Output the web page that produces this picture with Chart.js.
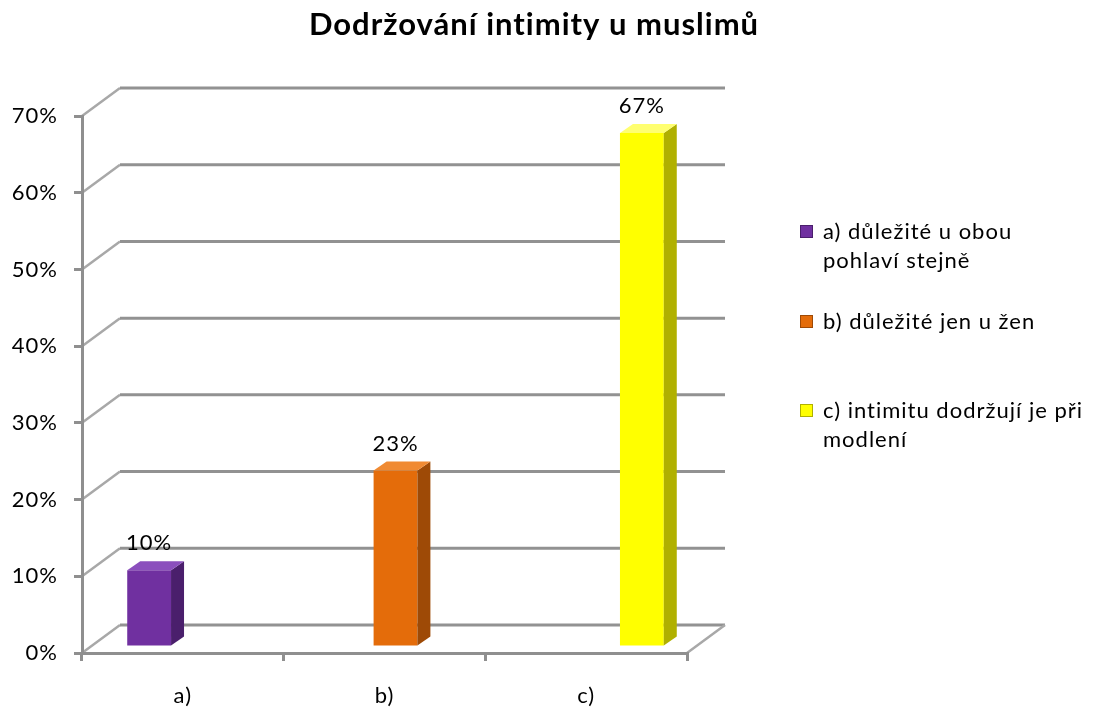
<!DOCTYPE html>
<html>
<head>
<meta charset="utf-8">
<script src="https://cdn.jsdelivr.net/npm/chart.js@4.4.0/dist/chart.umd.min.js"></script>
<style>
html, body { margin: 0; padding: 0; background: #fff; }
canvas { display: block; }
</style>
</head>
<body>
<canvas id="chart" width="1096" height="711"></canvas>
<script>
var chartTitle = 'Dodržování intimity u muslimů';
var categories = ['a)', 'b)', 'c)'];
var seriesNames = [
    ['a) důležité u obou', 'pohlaví stejně'],
    ['b) důležité jen u žen'],
    ['c) intimitu dodržují je při', 'modlení']
];
var seriesA = [10, null, null];
var seriesB = [null, 23, null];
var seriesC = [null, null, 67];
var yMax = 70;
var yStep = 10;

var frontColors = ['#7030a0', '#e46c0a', '#ffff00'];
var sideColors = ['#4a1f6c', '#9e4a06', '#b0b000'];
var topColors = ['#8b4fbd', '#f08a32', '#ffff70'];

// 3d offsets (pixels)
var WALL_DX = 38, WALL_DY = -28;
var BAR_DX = 11, BAR_DY = -6;
var DEPTH_DX = 13, DEPTH_DY = -9;

// the reference text is a bit wider than Lato
function spacing(chart) {
    chart.ctx.letterSpacing = '1px';
}

var threeD = {
    id: 'threeD',
    beforeUpdate: spacing,
    beforeLayout: spacing,
    beforeDraw: function (chart) {
        spacing(chart);
        var ctx = chart.ctx, area = chart.chartArea, y = chart.scales.y;
        ctx.save();
        y.ticks.forEach(function (t) {
            var py = y.getPixelForValue(t.value);
            ctx.strokeStyle = '#a8a8a8';
            ctx.lineWidth = 2.5;
            ctx.beginPath();
            ctx.moveTo(area.left, py);
            ctx.lineTo(area.left + WALL_DX, py + WALL_DY);
            ctx.stroke();
            ctx.strokeStyle = '#929292';
            ctx.lineWidth = 3;
            ctx.beginPath();
            ctx.moveTo(area.left + WALL_DX, py + WALL_DY);
            ctx.lineTo(area.right + WALL_DX, py + WALL_DY);
            ctx.stroke();
        });
        // right edge of the floor
        ctx.strokeStyle = '#a8a8a8';
        ctx.lineWidth = 2.5;
        ctx.beginPath();
        ctx.moveTo(area.right, area.bottom);
        ctx.lineTo(area.right + WALL_DX, area.bottom + WALL_DY);
        ctx.stroke();
        ctx.restore();
    },
    beforeDatasetsDraw: function (chart) {
        chart.ctx.save();
        chart.ctx.translate(BAR_DX, BAR_DY);
    },
    afterDatasetsDraw: function (chart) {
        var ctx = chart.ctx;
        ctx.restore();
        ctx.save();
        chart.data.datasets.forEach(function (ds, i) {
            var meta = chart.getDatasetMeta(i);
            meta.data.forEach(function (el, j) {
                if (ds.data[j] == null) return;
                var p = el.getProps(['x', 'y', 'base', 'width'], true);
                var x1 = p.x - p.width / 2 + BAR_DX;
                var x2 = p.x + p.width / 2 + BAR_DX;
                var yt = p.y + BAR_DY;
                var yb = p.base + BAR_DY;
                // side
                ctx.fillStyle = sideColors[i];
                ctx.beginPath();
                ctx.moveTo(x2, yt);
                ctx.lineTo(x2 + DEPTH_DX, yt + DEPTH_DY);
                ctx.lineTo(x2 + DEPTH_DX, yb + DEPTH_DY);
                ctx.lineTo(x2, yb);
                ctx.closePath();
                ctx.fill();
                // top
                ctx.fillStyle = topColors[i];
                ctx.beginPath();
                ctx.moveTo(x1, yt);
                ctx.lineTo(x2, yt);
                ctx.lineTo(x2 + DEPTH_DX, yt + DEPTH_DY);
                ctx.lineTo(x1 + DEPTH_DX, yt + DEPTH_DY);
                ctx.closePath();
                ctx.fill();
                // value label
                ctx.fillStyle = '#000';
                ctx.font = '22px Lato';
                ctx.textAlign = 'center';
                ctx.textBaseline = 'alphabetic';
                ctx.fillText(ds.data[j] + '%', p.x + BAR_DX, yt + DEPTH_DY - 11);
            });
        });
        ctx.restore();
    },
    afterDraw: function (chart) {
        var ctx = chart.ctx;
        ctx.save();
        ctx.fillStyle = '#000';
        ctx.font = 'bold 31px Lato';
        ctx.textAlign = 'center';
        ctx.textBaseline = 'alphabetic';
        ctx.fillText(chartTitle, 534, 35);

        // legend
        var lineCenters = [233, 323, 412];
        ctx.font = '22px Lato';
        ctx.textAlign = 'left';
        seriesNames.forEach(function (lines, i) {
            var cy = lineCenters[i];
            ctx.fillStyle = frontColors[i];
            ctx.fillRect(800, cy - 8, 13, 13);
            ctx.strokeStyle = sideColors[i];
            ctx.lineWidth = 1;
            ctx.strokeRect(800.5, cy - 7.5, 12, 12);
            ctx.fillStyle = '#000';
            lines.forEach(function (t, k) {
                ctx.fillText(t, 823, cy + 6 + k * 29);
            });
        });
        ctx.restore();
    }
};

function makeDataset(i, values) {
    return {
        label: seriesNames[i].join(' '),
        data: values,
        backgroundColor: frontColors[i],
        borderWidth: 0,
        categoryPercentage: 0.665,
        barPercentage: 0.98
    };
}

var ctx = document.getElementById('chart').getContext('2d');
var chart = new Chart(ctx, {
    type: 'bar',
    data: {
        labels: categories,
        datasets: [
            makeDataset(0, seriesA),
            makeDataset(1, seriesB),
            makeDataset(2, seriesC)
        ]
    },
    options: {
        responsive: false,
        animation: false,
        layout: { padding: { top: 116, right: 409, bottom: 0, left: 0 } },
        plugins: {
            legend: { display: false },
            title: { display: false },
            tooltip: { enabled: false }
        },
        scales: {
            x: {
                afterFit: function (s) { s.height = 58; },
                border: { color: '#8f8f8f', width: 3 },
                grid: { drawOnChartArea: false, drawTicks: true, tickLength: 8, color: '#8f8f8f', lineWidth: 3 },
                ticks: { color: '#000', font: { family: 'Lato', size: 22 }, padding: 22 }
            },
            y: {
                min: 0,
                max: yMax,
                afterFit: function (s) { s.width = 82; },
                border: { color: '#8f8f8f', width: 3 },
                grid: { drawOnChartArea: false, drawTicks: true, tickLength: 8, color: '#8f8f8f', lineWidth: 3 },
                ticks: {
                    stepSize: yStep,
                    color: '#000',
                    font: { family: 'Lato', size: 22 },
                    padding: 16,
                    callback: function (v) { return v + '%'; }
                }
            }
        }
    },
    plugins: [threeD]
});
</script>
</body>
</html>
